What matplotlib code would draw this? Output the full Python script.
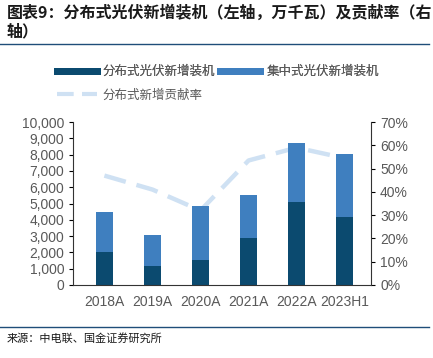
import matplotlib
matplotlib.use('Agg')
import matplotlib.pyplot as plt
from matplotlib.ticker import FuncFormatter, PercentFormatter
from matplotlib.lines import Line2D
import numpy as np

plt.rcParams['font.family'] = ['Noto Sans CJK SC', 'DejaVu Sans']

# 数据
categories = ['2018A', '2019A', '2020A', '2021A', '2022A', '2023H1']
distributed = [2050, 1150, 1550, 2900, 5100, 4200]     # 分布式光伏新增装机
centralized = [2430, 1900, 3270, 2600, 3640, 3810]     # 集中式光伏新增装机
contribution = [47, 41, 32, 53.5, 59, 54.5]            # 分布式新增贡献率 (%)

dark = '#0b4a6f'
mid = '#3f7fbf'
light = '#cfe1f3'
tick_c = '#595959'

fig = plt.figure(figsize=(4.33, 3.58), dpi=100)
ax = fig.add_axes([0.169, 0.204, 0.688, 0.455])
x = np.arange(len(categories))
w = 0.35

ax.bar(x, distributed, w, color=dark, zorder=2)
ax.bar(x, centralized, w, bottom=distributed, color=mid, zorder=2)

ax.set_ylim(0, 10000)
ax.set_yticks(range(0, 10001, 1000))
ax.yaxis.set_major_formatter(FuncFormatter(lambda v, p: f'{int(v):,}'))
ax.set_xlim(-0.65, len(categories) - 0.45)
ax.set_xticks(x)
ax.set_xticklabels(categories)
ax.tick_params(axis='x', length=0, pad=7, labelsize=10, labelcolor=tick_c)
ax.tick_params(axis='y', direction='out', length=3, labelsize=10, labelcolor=tick_c)
for s in ['top', 'right']:
    ax.spines[s].set_visible(False)
ax.spines['left'].set_color('#333333')
ax.spines['bottom'].set_color('#333333')

# 贡献率折线画在柱子后面
ax2 = ax.twinx()
ax2.plot(x, contribution, color=light, lw=3.2, dashes=(5, 2.5))
ax2.set_ylim(0, 70)
ax2.set_yticks(range(0, 71, 10))
ax2.yaxis.set_major_formatter(PercentFormatter(decimals=0))
ax2.tick_params(axis='y', direction='out', length=3, labelsize=10, labelcolor=tick_c)
for s in ['top', 'left', 'bottom']:
    ax2.spines[s].set_visible(False)
ax2.spines['right'].set_color('#333333')
ax.set_zorder(ax2.get_zorder() + 1)
ax.patch.set_visible(False)

for lab in ax.get_xticklabels() + ax.get_yticklabels() + ax2.get_yticklabels():
    lab.set_fontfamily('Liberation Sans')

# 图例
handles = [Line2D([], [], color=dark, lw=5),
           Line2D([], [], color=mid, lw=5),
           Line2D([], [], color=light, lw=3, dashes=(4, 2))]
labels = ['分布式光伏新增装机', '集中式光伏新增装机', '分布式新增贡献率']
leg1 = fig.legend(handles[:2], labels[:2], loc='center left', bbox_to_anchor=(0.105, 0.80),
                  ncol=2, frameon=False, fontsize=9, handlelength=3.2, handletextpad=0.5,
                  columnspacing=0.4, labelcolor=tick_c)
fig.legend(handles[2:], labels[2:], loc='center left', bbox_to_anchor=(0.105, 0.735),
           frameon=False, fontsize=9, handlelength=3.2, handletextpad=0.5, labelcolor=tick_c)
fig.add_artist(leg1)

# 标题与来源
fig.text(0.015, 0.964, '图表9：分布式光伏新增装机（左轴，万千瓦）及贡献率（右',
         fontsize=11.5, fontweight='bold', color='#1a1a1a', va='center')
fig.text(0.015, 0.913, '轴）', fontsize=11.5, fontweight='bold', color='#1a1a1a', va='center')
fig.add_artist(Line2D([0.0, 0.99], [0.878, 0.878], color='#1f4e79', lw=1))
fig.add_artist(Line2D([0.0, 0.99], [0.087, 0.087], color='#1f4e79', lw=1))
fig.text(0.015, 0.055, '来源：中电联、国金证券研究所', fontsize=8, color='#1a1a1a', va='center')

fig.savefig('out.png', dpi=100)
